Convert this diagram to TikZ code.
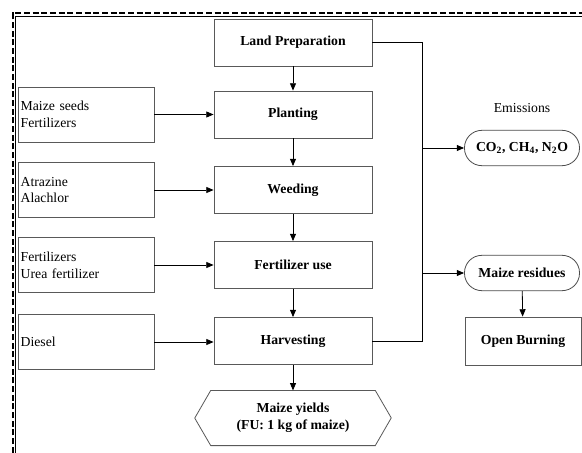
\documentclass[tikz,border=0pt]{standalone}
\usepackage{fontspec}
\setmainfont{Liberation Serif}
\usetikzlibrary{arrows.meta}
\begin{document}
\begin{tikzpicture}[x=0.75pt,y=-0.75pt,
  font=\fontsize{10.3pt}{12.5pt}\selectfont,
  proc/.style={draw=black!65, line width=0.6pt, minimum width=118.5pt, minimum height=35.25pt, font=\fontsize{10.3pt}{12.5pt}\selectfont\bfseries},
  inbox/.style={draw=black!65, line width=0.6pt, minimum width=102pt, minimum height=41.25pt, text width=98pt, inner xsep=1.6pt, align=left},
  stad/.style={draw=black!70, line width=0.6pt, rounded corners=13pt, minimum width=86.25pt, minimum height=26.5pt, font=\fontsize{10.3pt}{12.5pt}\selectfont\bfseries},
  conn/.style={line width=0.6pt, black},
  arr/.style={conn, -{Triangle[length=5.5pt,width=4.5pt]}}]
\useasboundingbox (0,0) rectangle (582,453);
\fill[white] (0,0) rectangle (582,453);
\begin{scope}
\clip (0,0) rectangle (582,453);
\draw[line width=1.5pt, dash pattern=on 4.5pt off 2pt] (12.5,600) -- (12.5,13.5) -- (700,13.5);
\draw[line width=0.4pt] (15,600) -- (15,16) -- (700,16);
\end{scope}
% process column
\node[proc] (land) at (293,42.5) {Land Preparation};
\node[proc] (plant) at (293,114.5) {Planting};
\node[proc] (weed) at (293,190) {Weeding};
\node[proc] (fert) at (293,265) {Fertilizer use};
\node[proc] (harv) at (293,341) {Harvesting};
% inputs
\node[inbox] (in1) at (86,114.5) {Maize seeds\\Fertilizers};
\node[inbox] (in2) at (86,190) {Atrazine\\Alachlor};
\node[inbox] (in3) at (86,265) {Fertilizers\\Urea fertilizer};
\node[inbox] (in4) at (86,342) {Diesel};
% output
\node[minimum width=123pt, minimum height=41pt, align=center, inner sep=0pt, font=\fontsize{10.3pt}{12.5pt}\selectfont\bfseries] (yield) at (293,418) {Maize yields\\(FU: 1 kg of maize)};
\draw[draw=black!65, line width=0.6pt] (yield.north west) -- (yield.north east) -- ++(16,27.5) -- (yield.south east) -- (yield.south west) -- ++(-16,-27.5) -- cycle;
% emissions
\node (emlabel) at (522,108) {Emissions};
\node[stad] (co2) at (522,148) {CO\textsubscript{2}, CH\textsubscript{4}, N\textsubscript{2}O};
\node[stad] (res) at (522,273) {Maize residues};
\node[proc, minimum width=87pt, minimum height=36pt] (burn) at (523,341) {Open Burning};
% connectors
\draw[arr] (land) -- (plant);
\draw[arr] (plant) -- (weed);
\draw[arr] (weed) -- (fert);
\draw[arr] (fert) -- (harv);
\draw[arr] (harv) -- (yield.north);
\draw[arr] (in1) -- (plant);
\draw[arr] (in2) -- (weed);
\draw[arr] (in3) -- (fert);
\draw[arr] (in4.east) -- (in4.east -| harv.west);
\coordinate (trunk) at (422,0);
\draw[conn] (land.east) -- (land.east -| trunk) |- (harv.east);
\draw[arr] (trunk |- co2.west) -- (co2.west);
\draw[arr] (trunk |- res.west) -- (res.west);
\draw[arr] (res) -- (burn);
\end{tikzpicture}
\end{document}
